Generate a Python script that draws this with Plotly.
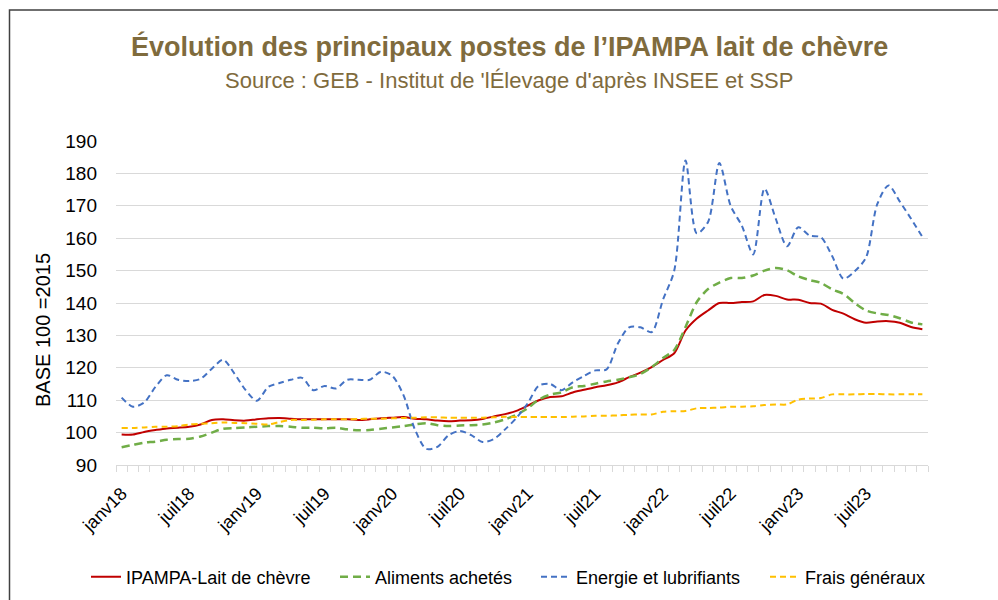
import plotly.graph_objects as go

# ---- data -------------------------------------------------------------
tick_labels = ["janv18", "juil18", "janv19", "juil19", "janv20", "juil20",
               "janv21", "juil21", "janv22", "juil22", "janv23", "juil23"]
n_months = 72  # janv18 .. déc23
months = list(range(n_months))
tick_positions = list(range(0, n_months, 6))

ipampa = [99.4, 99.4, 100.2, 100.8, 101.3, 101.5, 101.8, 102.5, 103.9, 104.1, 103.8, 103.7,
          104.1, 104.4, 104.5, 104.3, 104.1, 104.1, 104.1, 104.1, 104.1, 103.9, 104.1, 104.4,
          104.6, 104.8, 104.3, 104.1, 103.7, 103.5, 103.7, 103.8, 104.2, 105.0, 105.7, 106.7,
          108.3, 110.0, 111.0, 111.2, 112.4, 113.2, 114.0, 114.6, 115.5, 117.1, 118.5, 120.2,
          122.4, 124.5, 131.5, 135.2, 137.7, 140.0, 140.0, 140.3, 140.5, 142.5, 142.2, 141.1,
          141.0, 140.0, 139.8, 137.9, 136.7, 135.0, 133.9, 134.3, 134.4, 133.9, 132.6, 131.9]

aliments = [95.5, 96.2, 96.9, 97.2, 97.8, 98.0, 98.1, 98.8, 100.0, 101.2, 101.4, 101.6,
            101.8, 102.0, 102.0, 101.8, 101.5, 101.5, 101.3, 101.5, 101.0, 100.7, 100.8, 101.2,
            101.6, 102.0, 102.5, 102.9, 102.3, 102.0, 102.2, 102.3, 102.5, 103.1, 104.1, 105.5,
            107.5, 110.2, 111.7, 112.4, 114.0, 114.4, 115.1, 115.8, 116.3, 117.1, 118.1, 120.2,
            123.0, 125.5, 132.6, 140.3, 144.3, 146.3, 147.7, 147.7, 148.5, 150.0, 150.8, 150.1,
            148.2, 147.1, 146.2, 144.2, 142.8, 140.0, 137.7, 136.8, 136.3, 135.3, 134.0, 133.4]

energie = [110.8, 108.0, 109.3, 114.1, 117.7, 116.3, 115.9, 116.6, 119.7, 122.5, 118.2, 113.1,
           109.8, 114.1, 115.3, 116.3, 116.9, 113.1, 114.4, 113.6, 116.3, 116.3, 116.3, 118.8,
           117.5, 111.5, 101.0, 95.0, 95.6, 99.2, 100.5, 99.2, 97.1, 98.0, 101.0, 104.5,
           109.0, 114.5, 115.0, 113.1, 115.5, 117.5, 119.2, 119.5, 127.5, 132.5, 132.5, 131.0,
           141.0, 150.0, 184.0, 161.5, 165.0, 183.2, 170.0, 163.8, 155.0, 175.3, 166.0, 157.5,
           163.4, 160.8, 160.3, 154.5, 147.5, 149.8, 154.0, 170.5, 176.3, 171.3, 166.0, 160.4]

frais = [101.4, 101.4, 101.6, 101.8, 101.8, 102.0, 102.5, 102.7, 102.9, 103.1, 103.0, 102.9,
         102.7, 102.5, 103.3, 103.9, 103.9, 104.0, 104.1, 104.1, 104.1, 104.2, 104.3, 104.3,
         104.4, 104.5, 104.6, 104.7, 104.7, 104.6, 104.6, 104.6, 104.6, 104.7, 104.9, 104.8,
         104.8, 104.8, 104.8, 104.8, 104.9, 105.0, 105.2, 105.2, 105.3, 105.5, 105.6, 105.6,
         106.4, 106.6, 106.7, 107.5, 107.6, 107.7, 108.0, 108.0, 108.1, 108.5, 108.7, 108.7,
         110.2, 110.5, 110.7, 111.8, 111.8, 111.8, 111.9, 111.9, 111.8, 111.8, 111.8, 111.8]

series_names = ["IPAMPA-Lait de chèvre", "Aliments achetés",
                "Energie et lubrifiants", "Frais généraux"]

# ---- figure -----------------------------------------------------------
FONT = "Liberation Sans, Arial, sans-serif"
TITLE_COLOR = "#7F6B3D"
GRID = "#D9D9D9"
W, H = 998, 600

styles = [
    dict(color="#C00000", width=2, dash="solid"),
    dict(color="#70AD47", width=2.5, dash="8px,5px"),
    dict(color="#4472C4", width=2, dash="6px,4px"),
    dict(color="#FFC000", width=2, dash="6px,4px"),
]
values = [ipampa, aliments, energie, frais]
legends = ["legend", "legend2", "legend3", "legend4"]
legend_px = [86, 335, 536, 765]   # left edge of each legend entry

fig = go.Figure()
for name, vals, st, lg in zip(series_names, values, styles, legends):
    fig.add_trace(go.Scatter(
        x=months, y=vals, name=name, mode="lines",
        line=dict(color=st["color"], width=st["width"], dash=st["dash"],
                  shape="spline", smoothing=0.8),
        legend=lg, hoverinfo="skip"))

legend_common = dict(orientation="h", xref="container", yref="container",
                     yanchor="middle", y=1 - 577 / H,
                     xanchor="left", bgcolor="rgba(0,0,0,0)",
                     font=dict(family=FONT, size=18, color="#000000"))
layout_legends = {}
for lg, px in zip(legends, legend_px):
    layout_legends[lg] = dict(legend_common, x=px / W)

fig.update_layout(
    width=W, height=H,
    margin=dict(l=116, r=70, t=141, b=135, autoexpand=False),
    paper_bgcolor="white", plot_bgcolor="white",
    font=dict(family=FONT, size=18, color="#000000"),
    showlegend=True,
    **layout_legends,
    xaxis=dict(
        range=[-0.5, n_months - 0.5], automargin=False,
        tickmode="array", tickvals=tick_positions, ticktext=tick_labels,
        tickangle=-45, ticks="", showgrid=False, zeroline=False,
        showline=True, linecolor=GRID, linewidth=1, ticklabelstandoff=10,
        tickfont=dict(family=FONT, size=18, color="#000000"),
        minor=dict(tickmode="linear", tick0=-0.5, dtick=1, ticks="outside",
                   ticklen=6, tickcolor=GRID, tickwidth=1, showgrid=False),
    ),
    yaxis=dict(
        range=[90, 190], tickmode="linear", tick0=90, dtick=10, automargin=False,
        showgrid=True, gridcolor=GRID, gridwidth=1, zeroline=False,
        showline=False, ticks="", ticklabelstandoff=18,
        tickfont=dict(family=FONT, size=19, color="#000000"),
    ),
    annotations=[
        dict(text="<b>Évolution des principaux postes de l’IPAMPA lait de chèvre</b>",
             xref="paper", yref="paper", x=0.484, y=1.293,
             xanchor="center", yanchor="middle", showarrow=False,
             font=dict(family=FONT, size=27, color=TITLE_COLOR)),
        dict(text="Source : GEB - Institut de 'lÉlevage d'après INSEE et SSP",
             xref="paper", yref="paper", x=0.484, y=1.188,
             xanchor="center", yanchor="middle", showarrow=False,
             font=dict(family=FONT, size=22, color=TITLE_COLOR)),
        dict(text="BASE 100 =2015", textangle=-90,
             xref="paper", yref="paper", x=(43 - 116) / 812, y=(465 - 330) / 324,
             xanchor="center", yanchor="middle", showarrow=False,
             font=dict(family=FONT, size=20, color="#000000")),
    ],
    shapes=[
        dict(type="rect", xref="paper", yref="paper",
             x0=(9.5 - 116) / 812, x1=(1010 - 116) / 812,
             y0=(465 - 620) / 324, y1=(465 - 10) / 324,
             line=dict(color="#404040", width=1.5), fillcolor="rgba(0,0,0,0)",
             layer="below"),
    ],
)

fig.write_html("out.html", config={"displayModeBar": False},
               post_script="document.body.style.margin='0';")
